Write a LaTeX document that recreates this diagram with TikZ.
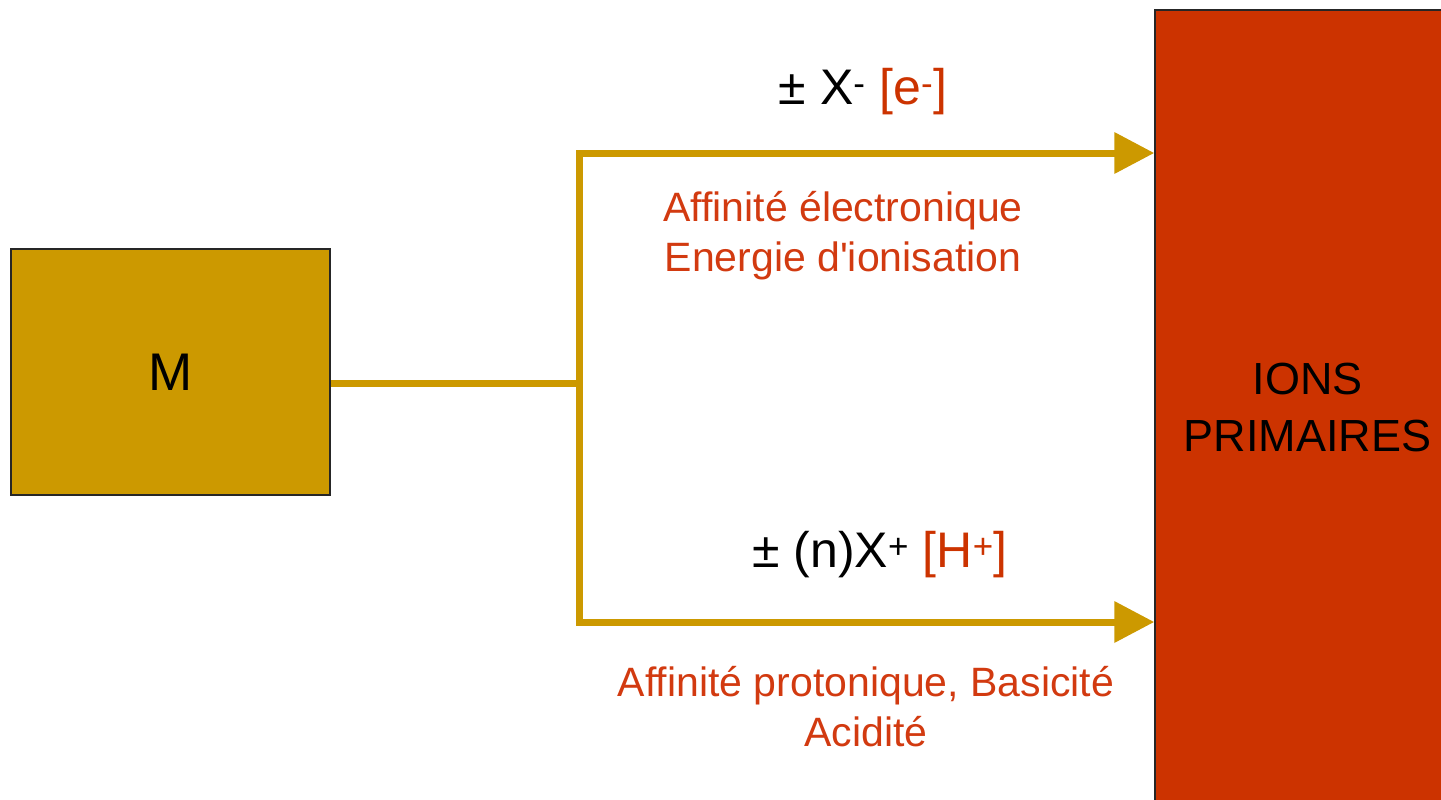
\documentclass[tikz,border=0pt]{standalone}
\usepackage{fontspec}
\setmainfont{Liberation Sans}
\usetikzlibrary{arrows.meta}
\definecolor{gold}{HTML}{CC9900}
\definecolor{rust}{HTML}{CC3300}
\definecolor{labelred}{HTML}{D23A10}
\tikzset{
  boxstyle/.style={draw=black!85, line width=1.5pt, inner sep=0pt, align=center},
  conn/.style={draw=gold, line width=7pt},
  arr/.style={conn, {Triangle[length=40pt,width=40pt]}-{Triangle[length=40pt,width=40pt]}},
  bigtext/.style={font=\fontsize{50}{60}\selectfont},
  redtext/.style={text=labelred, align=center, font=\fontsize{41}{50}\selectfont}
}
\begin{document}
\begin{tikzpicture}[x=1pt,y=-1pt]
\useasboundingbox (0,0) rectangle (1441,800);
\node[boxstyle, fill=gold, minimum width=319pt, minimum height=246pt, font=\fontsize{53}{60}\selectfont] (M) at (170.5,372) {\raisebox{-4pt}{M}};
\node[boxstyle, fill=rust, minimum width=305pt, minimum height=796pt, font=\fontsize{45}{57}\selectfont] (ions) at (1307.5,408) {IONS\\PRIMAIRES};
\coordinate (j) at (579,383);
\coordinate (t) at (579,153);
\coordinate (b) at (579,622);
\draw[conn] (M.east |- j) -- (j);
\draw[arr] (t -| ions.west) -- (t) -- (b) -- (b -| ions.west);
\node[bigtext] (lab1) at (863,92) {± X\textsuperscript{-} \textcolor{rust}{[e\textsuperscript{-}]}};
\node[redtext] (lab2) at (843,236) {Affinité électronique\\Energie d\textquotesingle ionisation};
\node[bigtext] (lab3) at (880,555) {± (n)X\textsuperscript{+} \textcolor{rust}{[H\textsuperscript{+}]}};
\node[redtext] (lab4) at (866,707) {Affinité protonique, Basicité\\Acidité};
\end{tikzpicture}
\end{document}
